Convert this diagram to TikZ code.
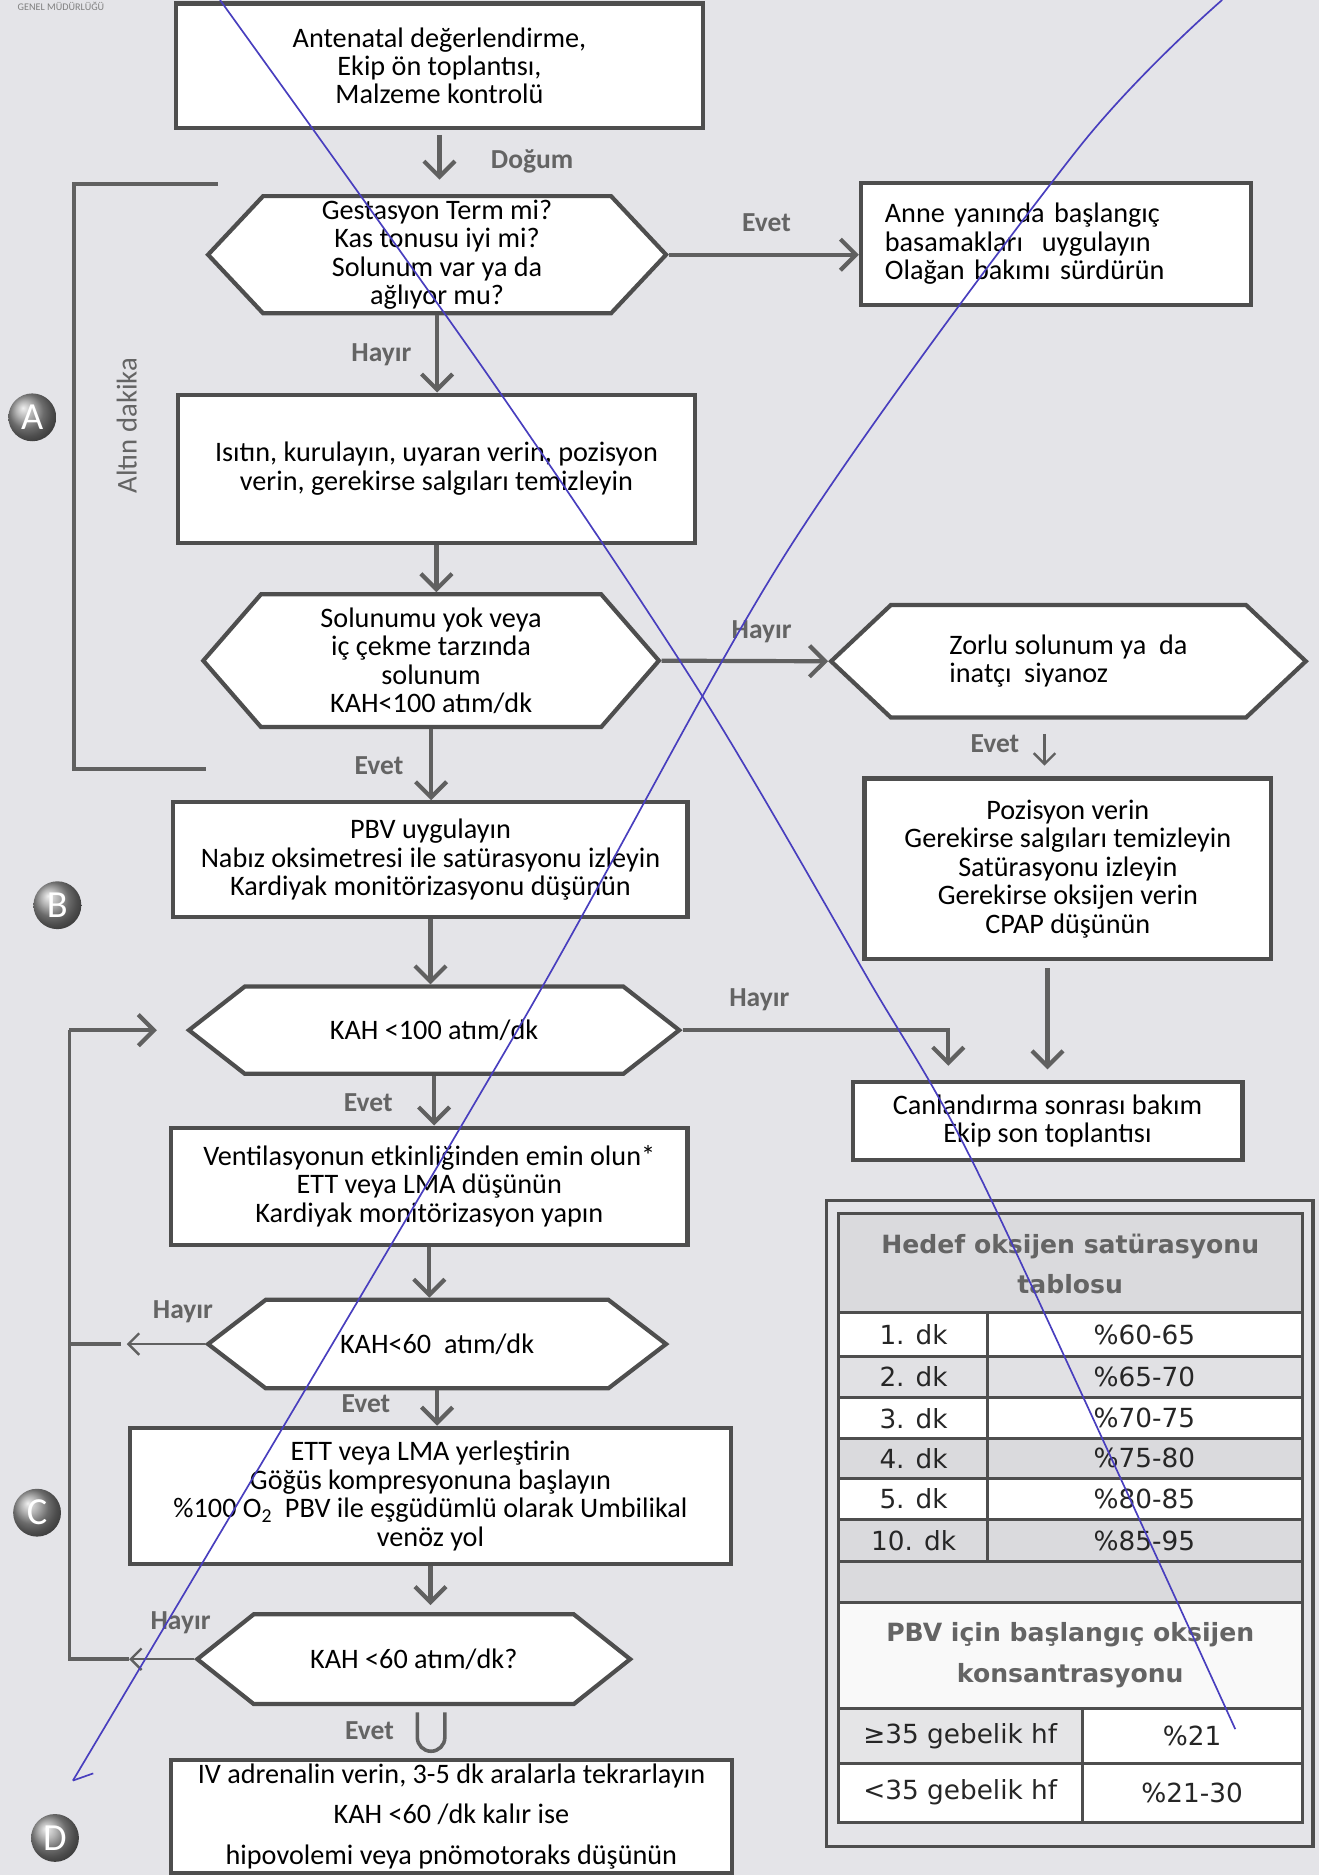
\documentclass[tikz,border=0pt]{standalone}
\usepackage{fontspec}
\setmainfont{Carlito}
\newfontfamily\tabfont{DejaVu Sans}
\usepackage{tikz}
\usetikzlibrary{shapes.geometric, shapes.symbols, arrows.meta, positioning, calc}

\definecolor{paper}{RGB}{228,228,232}
\definecolor{boxgray}{RGB}{78,78,78}
\definecolor{linegray}{RGB}{96,96,96}
\definecolor{labelgray}{RGB}{100,100,100}
\definecolor{tabgray}{RGB}{218,218,221}
\definecolor{pen}{RGB}{72,62,190}

\newcommand{\flowfont}{\fontsize{23.6}{23.8}\selectfont}
\newcommand{\labfont}{\fontsize{23}{24}\selectfont\bfseries}
\newcommand{\tabtext}{\tabfont\fontsize{22}{26}\selectfont}
\newcommand{\tabhead}{\tabfont\bfseries\fontsize{21}{34}\selectfont}

\tikzstyle{arrow} = [line width=3.5pt, draw=linegray, ->, >={Straight Barb[length=13pt,width=26pt]}]
\tikzstyle{thinarrow} = [line width=2pt, draw=linegray, ->, >={Straight Barb[length=9pt,width=18pt]}]
\tikzstyle{wire} = [line width=3pt, draw=linegray]
\tikzstyle{process} = [rectangle, draw=boxgray, line width=3.5pt, fill=white, align=center, font=\flowfont, inner sep=0pt]
\tikzstyle{decision} = [signal, signal to=east and west, signal pointer angle=94, draw=boxgray, line width=3.5pt, fill=white, align=center, font=\flowfont, inner sep=0pt]
\tikzstyle{cue} = [text=labelgray, font=\labfont, inner sep=0pt]
\tikzstyle{badge} = [circle, ball color=gray!80, text=white, minimum size=40pt, inner sep=0pt, font=\fontsize{32}{32}\selectfont]
\tikzstyle{tabcell} = [font=\tabtext, text=black!85, inner sep=0pt]
\tikzstyle{tabtitle} = [font=\tabhead, text=labelgray, align=center, inner sep=0pt]
\tikzstyle{penline} = [draw=pen, line width=1.4pt]

\begin{document}
\begin{tikzpicture}[x=1pt, y=-1pt]
    \fill [paper] (0,0) rectangle (1103,1568);
    \useasboundingbox (0,0) rectangle (1103,1568);
    \node (header) [text=gray, font=\fontsize{8.5}{9}\selectfont, inner sep=0pt] at (51,5) {GENEL MÜDÜRLÜĞÜ};

    % Akis kutulari
    \node (antenatal) [process, minimum width=441pt, minimum height=104pt] at (367.5,55) {Antenatal değerlendirme,\\Ekip ön toplantısı,\\Malzeme kontrolü};
    \node (gest) [decision, signal pointer angle=93.6, minimum width=383pt, minimum height=98pt] at (365.5,213) {Gestasyon Term mi?\\Kas tonusu iyi mi?\\Solunum var ya da\\ağlıyor mu?};
    \node (anne) [process, align=left, text width=286pt, minimum width=326pt, minimum height=102pt] at (883,204) {Anne yanında başlangıç\\basamakları~ uygulayın\\Olağan bakımı sürdürün};
    \node (isit) [process, minimum width=432pt, minimum height=124pt] at (365,392) {Isıtın, kurulayın, uyaran verin, pozisyon\\verin, gerekirse salgıları temizleyin};
    \node (solunum) [decision, signal pointer angle=98, minimum width=381pt, minimum height=111pt] at (360.5,552.5) {Solunumu yok veya\\iç çekme tarzında\\solunum\\KAH<100 atım/dk};
    \node (zorlu) [decision, align=left, signal pointer angle=86.5, minimum width=397pt, minimum height=94pt] at (893.5,553) {Zorlu solunum ya~ da\\inatçı~ siyanoz};
    \node (pozisyon) [process, minimum width=340pt, minimum height=151pt] at (893,726.5) {Pozisyon verin\\Gerekirse salgıları temizleyin\\Satürasyonu izleyin\\Gerekirse oksijen verin\\CPAP düşünün};
    \node (pbv) [process, minimum width=430pt, minimum height=96pt] at (360,719) {PBV uygulayın\\Nabız oksimetresi ile satürasyonu izleyin\\Kardiyak monitörizasyonu düşünün};
    \node (kah1) [decision, signal pointer angle=76, minimum width=410pt, minimum height=73pt] at (363,861.5) {KAH <100 atım/dk};
    \node (canl) [process, minimum width=326pt, minimum height=65pt] at (876,937.5) {Canlandırma sonrası bakım\\Ekip son toplantısı};
    \node (vent) [process, minimum width=432pt, minimum height=98pt] at (359,992) {Ventilasyonun etkinliğinden emin olun*\\ETT veya LMA düşünün\\Kardiyak monitörizasyon yapın};
    \node (kah2) [decision, signal pointer angle=75, minimum width=383pt, minimum height=74pt] at (365.5,1124) {KAH<60~ atım/dk};
    \node (ett) [process, minimum width=502pt, minimum height=114pt] at (360,1251) {ETT veya LMA yerleştirin\\Göğüs kompresyonuna başlayın\\\%100 O\textsubscript{2}~ PBV ile eşgüdümlü olarak Umbilikal\\venöz yol};
    \node (kah3) [decision, signal pointer angle=77, minimum width=362pt, minimum height=75pt] at (346,1387.5) {KAH <60 atım/dk?};
    \node (adren) [process, font=\fontsize{23.6}{34}\selectfont, minimum width=469pt, minimum height=94pt] at (377.5,1519) {IV adrenalin verin, 3-5 dk aralarla tekrarlayın\\KAH <60 /dk kalır ise\\hipovolemi veya pnömotoraks düşünün};

    % Etiketler
    \node (dogum) [cue] at (445,135) {Doğum};
    \node (evet1) [cue] at (641,186) {Evet};
    \node (hayir1) [cue] at (319,297) {Hayır};
    \node (hayir2) [cue] at (637,528) {Hayır};
    \node (evet2) [cue] at (317,640) {Evet};
    \node (evet3) [cue] at (832,622) {Evet};
    \node (hayir4) [cue] at (635,836) {Hayır};
    \node (evet4) [cue] at (308,922) {Evet};
    \node (hayir5) [cue] at (153,1097) {Hayır};
    \node (evet5) [cue] at (306,1174) {Evet};
    \node (hayir6) [cue] at (151,1357) {Hayır};
    \node (evet6) [cue] at (309,1447) {Evet};
    \node (altin) [text=labelgray, font=\fontsize{24}{24}\selectfont, rotate=90, inner sep=0pt] at (106,356) {Altın dakika};

    % Harfler
    \node (bA) [badge] at (27,349) {A};
    \node (bB) [badge] at (48,757) {B};
    \node (bC) [badge] at (31,1265) {C};
    \node (bD) [badge] at (46,1537) {D};

    % Altin dakika cizgisi
    \draw [wire] (182,154) -- (62,154) -- (62,643) -- (172,643);

    % Oklar
    \draw [arrow, shorten <=4pt, shorten >=12pt] (antenatal.south) -- (antenatal.south |- gest.north);
    \draw [arrow] (gest.east) -- (gest.east -| anne.west);
    \draw [arrow] (gest.south) -- (gest.south |- isit.north);
    \draw [arrow] (isit.south) -- (isit.south |- solunum.north);
    \draw [arrow] (solunum.east) -- (zorlu.west);
    \draw [thinarrow, shorten <=12pt, shorten >=9pt] ([xshift=-20pt]zorlu.south) -- ([xshift=-20pt]zorlu.south |- pozisyon.north);
    \draw [arrow] (solunum.south) -- (solunum.south |- pbv.north);
    \draw [arrow] (pbv.south) -- (pbv.south |- kah1.north);
    \draw [arrow, shorten >=12pt] (kah1.east) -| ([xshift=-83pt]canl.north);
    \draw [arrow, shorten <=6pt, shorten >=9pt] (pozisyon.south -| canl.north) -- (canl.north);
    \draw [arrow] (kah1.south) -- (kah1.south |- vent.north);
    \draw [arrow] (vent.south) -- (vent.south |- kah2.north);
    \draw [arrow] (kah2.south) -- (kah2.south |- ett.north);
    \draw [arrow, shorten >=6pt] (ett.south) -- (ett.south |- kah3.north);
    \draw [wire] (349,1432) -- (349,1453) arc[start angle=180, end angle=360, radius=11.5pt] -- (372,1432);

    % Geri donus
    \coordinate (lp1) at (58,861.5);
    \coordinate (lp2) at (58,1387.5);
    \coordinate (j2) at (58,1124);
    \coordinate (j2e) at (101,1124);
    \coordinate (hy2) at (106,1124);
    \coordinate (hy3) at (108,1387.5);
    \draw [thinarrow] (kah2.west) -- (hy2);
    \draw [wire] (j2) -- (j2e);
    \draw [thinarrow] (kah3.west) -- (hy3);
    \draw [wire] (hy3) -- (lp2) -- (lp1);
    \draw [arrow, shorten >=24pt] (lp1) -- (kah1.west);

    % Tablo
    \fill [tabgray] (701,1015) rectangle (1089,1098);
    \fill [white] (701,1098) rectangle (1089,1134);
    \fill [tabgray!80] (701,1134) rectangle (1089,1169);
    \fill [white] (701,1169) rectangle (1089,1203);
    \fill [tabgray] (701,1203) rectangle (1089,1236);
    \fill [white] (701,1236) rectangle (1089,1271);
    \fill [tabgray] (701,1271) rectangle (1089,1340);
    \fill [gray!5] (701,1340) rectangle (1089,1429);
    \fill [tabgray!70] (701,1429) rectangle (905,1475);
    \fill [white] (905,1429) rectangle (1089,1475);
    \fill [white] (701,1475) rectangle (1089,1524);
    \draw [draw=boxgray, line width=3pt] (691,1004) rectangle (1098,1544);
    \draw [draw=boxgray, line width=2.5pt] (701,1015) rectangle (1089,1524);
    \draw [draw=boxgray, line width=2.5pt] (701,1098) -- (1089,1098) (701,1134) -- (1089,1134) (701,1169) -- (1089,1169)
        (701,1203) -- (1089,1203) (701,1236) -- (1089,1236) (701,1271) -- (1089,1271) (701,1306) -- (1089,1306)
        (701,1340) -- (1089,1340) (701,1429) -- (1089,1429) (701,1475) -- (1089,1475)
        (826,1098) -- (826,1306) (905,1429) -- (905,1524);
    \node (th1) [tabtitle] at (895,1057) {Hedef oksijen satürasyonu\\tablosu};
    \node (r1a) [tabcell] at (764,1116) {1. dk};
    \node (r1b) [tabcell] at (957,1116) {\%60-65};
    \node (r2a) [tabcell] at (764,1151.5) {2. dk};
    \node (r2b) [tabcell] at (957,1151.5) {\%65-70};
    \node (r3a) [tabcell] at (764,1186) {3. dk};
    \node (r3b) [tabcell] at (957,1186) {\%70-75};
    \node (r4a) [tabcell] at (764,1219.5) {4. dk};
    \node (r4b) [tabcell] at (957,1219.5) {\%75-80};
    \node (r5a) [tabcell] at (764,1253.5) {5. dk};
    \node (r5b) [tabcell] at (957,1253.5) {\%80-85};
    \node (r6a) [tabcell] at (764,1288.5) {10. dk};
    \node (r6b) [tabcell] at (957,1288.5) {\%85-95};
    \node (th2) [tabtitle] at (895,1384) {PBV için başlangıç oksijen\\konsantrasyonu};
    \node (r7a) [tabcell] at (803,1452) {≥35 gebelik hf};
    \node (r7b) [tabcell] at (997,1452) {\%21};
    \node (r8a) [tabcell] at (803,1499) {<35 gebelik hf};
    \node (r8b) [tabcell] at (997,1499) {\%21-30};

    % Kalem cizgileri
    \draw [penline] plot[smooth] coordinates {(184,0) (411,318) (586,580) (725,817) (821,987) (1033,1446)};
    \draw [penline] plot[smooth] coordinates {(1022,0) (901,125) (659,460) (433,861) (61,1489)};
    \draw [penline] (61,1489) -- (78,1483);
\end{tikzpicture}
\end{document}
